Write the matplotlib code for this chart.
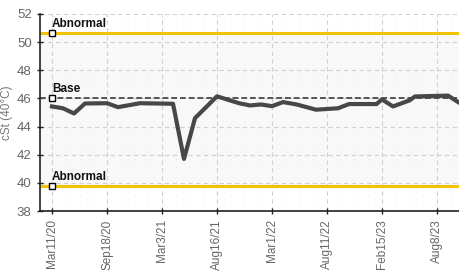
import matplotlib
matplotlib.use("Agg")
import matplotlib.pyplot as plt
from matplotlib.ticker import MultipleLocator

# sample index -> viscosity (cSt @ 40°C)
idx = [0, 2, 4, 6, 10, 12, 16, 22, 24, 26, 30, 34, 36, 38, 40, 42, 44.5,
       48, 52, 54, 59, 60, 62, 65, 66, 72, 74, 76]
cst = [45.43, 45.3, 44.93, 45.64, 45.66, 45.38, 45.66, 45.62, 41.7, 44.6,
       46.15, 45.66, 45.5, 45.57, 45.45, 45.74, 45.57, 45.2, 45.3, 45.6,
       45.6, 45.93, 45.43, 45.86, 46.14, 46.2, 45.7, 45.5]

tick_pos = [0, 10, 20, 30, 40, 50, 60, 70]
tick_labels = ["Mar11/20", "Sep18/20", "Mar3/21", "Aug16/21",
               "Mar1/22", "Aug11/22", "Feb15/23", "Aug8/23"]

abnormal_hi = 50.62
abnormal_lo = 39.75
base = 46.0

plt.rcParams['font.family'] = ['Liberation Sans', 'DejaVu Sans']

fig = plt.figure(figsize=(4.59, 2.77), dpi=100)
ax = fig.add_axes([40 / 459, 66 / 277, 419 / 459, 197 / 277])

ax.set_xlim(-12 / 5.5, 74)
ax.set_ylim(38, 52)

ax.axhspan(abnormal_lo, abnormal_hi, color='#f8f8f8', zorder=0)
ax.grid(True, which='major', color='#d0d0d0', linestyle=(0, (4, 3)), linewidth=0.8)
ax.xaxis.set_minor_locator(MultipleLocator(2.5))
ax.grid(True, which='minor', axis='x', color='#ececec', linestyle=(0, (1.5, 6)), linewidth=0.7)

ax.axhline(abnormal_hi, color='#f2c200', linewidth=2.2, zorder=2)
ax.axhline(abnormal_lo, color='#f2c200', linewidth=2.2, zorder=2)
ax.axhline(base, color='#555555', linewidth=1.4, linestyle=(0, (3, 1.5)), zorder=2)

ax.plot(idx, cst, color='#474747', linewidth=3.0, zorder=3, solid_joinstyle='round')

for yv, txt in [(abnormal_hi, "Abnormal"), (base, "Base"), (abnormal_lo, "Abnormal")]:
    ax.plot([0], [yv], marker='s', markersize=4, markerfacecolor='white',
            markeredgecolor='black', markeredgewidth=1, zorder=4, clip_on=False)
    ax.text(0, yv + 0.22, txt, fontsize=8.5, color='#111111', ha='left', va='bottom',
            zorder=5, fontweight='bold')

ax.set_yticks(range(38, 53, 2))
ax.set_xticks(tick_pos)
ax.set_xticklabels(tick_labels, rotation=90)
ax.tick_params(axis='both', which='major', direction='inout', length=5, width=1,
               color='#222222', labelcolor='#666666', labelsize=8.5)
ax.tick_params(axis='y', labelsize=9.5)
ax.tick_params(axis='x', which='minor', length=0)
ax.set_ylabel("cSt (40°C)", color='#777777', fontsize=8.5, labelpad=3)

for s in ['top', 'right']:
    ax.spines[s].set_visible(False)
for s in ['left', 'bottom']:
    ax.spines[s].set_color('#222222')
    ax.spines[s].set_linewidth(1.2)

fig.savefig("out.png", dpi=100)
